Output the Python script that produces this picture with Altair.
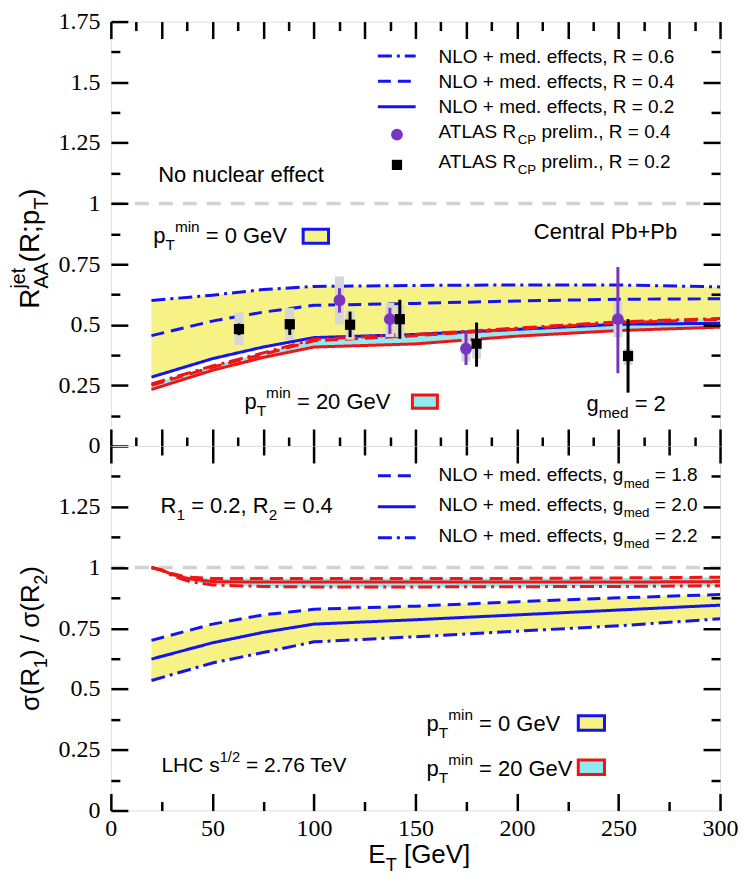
import altair as alt
import pandas as pd

# ---------------- data ----------------
# upper panel: R_AA^jet vs E_T
x_top = [20, 50, 75, 100, 150, 200, 250, 300]
blue_r06 = [0.600, 0.622, 0.645, 0.658, 0.662, 0.664, 0.664, 0.656]
blue_r04 = [0.455, 0.515, 0.552, 0.580, 0.588, 0.598, 0.605, 0.607]
blue_r02 = [0.284, 0.360, 0.408, 0.447, 0.460, 0.481, 0.502, 0.506]
red_r06 = [0.256, 0.330, 0.384, 0.440, 0.460, 0.486, 0.512, 0.526]
red_r04 = [0.250, 0.325, 0.378, 0.434, 0.455, 0.482, 0.508, 0.522]
red_r02 = [0.233, 0.312, 0.365, 0.408, 0.421, 0.453, 0.476, 0.490]

# lower panel: sigma(R1)/sigma(R2)
x_bot = [20, 50, 75, 100, 150, 200, 250, 300]
blue_g18 = [0.700, 0.767, 0.805, 0.828, 0.841, 0.859, 0.875, 0.889]
blue_g20 = [0.623, 0.690, 0.733, 0.767, 0.785, 0.805, 0.825, 0.845]
blue_g22 = [0.535, 0.607, 0.650, 0.694, 0.715, 0.738, 0.760, 0.789]
x_bot_red = [20, 25, 30, 35, 40, 50, 75, 100, 150, 200, 250, 300]
red_g18 = [1.000, 0.990, 0.975, 0.965, 0.960, 0.955, 0.955, 0.955, 0.955, 0.955, 0.957, 0.960]
red_g20 = [1.000, 0.990, 0.972, 0.960, 0.952, 0.942, 0.940, 0.940, 0.940, 0.940, 0.940, 0.942]
red_g22 = [1.000, 0.988, 0.968, 0.952, 0.940, 0.928, 0.922, 0.920, 0.920, 0.921, 0.922, 0.925]

# ATLAS R_CP preliminary
atlas04_et = [112.6, 137.4, 174.9, 249.7]
atlas04_val = [0.601, 0.523, 0.401, 0.523]
atlas04_stat_lo = [0.550, 0.462, 0.334, 0.300]
atlas04_stat_hi = [0.651, 0.570, 0.462, 0.738]
atlas04_sys_lo = [0.501, 0.449, 0.348, 0.449]
atlas04_sys_hi = [0.699, 0.590, 0.462, 0.597]

atlas02_et = [63.1, 88.1, 117.8, 142.3, 180.1, 254.7]
atlas02_val = [0.482, 0.502, 0.500, 0.523, 0.422, 0.371]
atlas02_stat_lo = [0.457, 0.458, 0.449, 0.442, 0.327, 0.220]
atlas02_stat_hi = [0.505, 0.515, 0.554, 0.603, 0.509, 0.523]
atlas02_sys_lo = [0.416, 0.437, 0.438, 0.449, 0.360, 0.334]
atlas02_sys_hi = [0.550, 0.570, 0.559, 0.580, 0.462, 0.400]
sys_half_width = 2.2

no_effect = [1.0]

# tick values
x_major_top = [0, 25, 50, 75, 100, 125, 150, 175, 200, 225, 250, 275, 300]
x_minor_top = [12.5, 37.5, 62.5, 87.5, 112.5, 137.5, 162.5, 187.5, 212.5, 237.5, 262.5, 287.5]
x_major_bot = [0, 50, 100, 150, 200, 250, 300]
x_minor_bot = [25, 75, 125, 175, 225, 275]
y_major_top = [0, 0.25, 0.5, 0.75, 1.0, 1.25, 1.5, 1.75]
y_minor_top = [0.125, 0.375, 0.625, 0.875, 1.125, 1.375, 1.625]
y_major_bot = [0, 0.25, 0.5, 0.75, 1.0, 1.25]
y_minor_bot = [0.125, 0.375, 0.625, 0.875, 1.125, 1.375]

# ---------------- styling ----------------
BLUE = "#1414f0"
RED = "#f01414"
YEL = "#f7f285"
CYA = "#92eaf0"
PURP = "#7a35c0"
GRAY = "#d6d6d6"
FONT = "Liberation Sans, Arial, Helvetica, sans-serif"
SERIF = "Liberation Serif, Times New Roman, serif"

W = 610
H1, H2 = 425, 365
KX = W / 300.0
K1 = H1 / 1.75
K2 = H2 / 1.5

xs = alt.Scale(domain=[0, 300], nice=False, zero=False)
ys1 = alt.Scale(domain=[0, 1.75], nice=False, zero=False)
ys2 = alt.Scale(domain=[0, 1.5], nice=False, zero=False)
dash_scale = alt.Scale(domain=["solid", "dash", "dashdot"],
                       range=[[1, 0], [13, 7], [14, 5, 3, 5]])

AW = {' ': 278, '+': 584, ',': 278, '.': 278, '/': 278, '=': 584, ';': 278,
      '(': 333, ')': 333, '[': 278, ']': 278, 'σ': 600}
for d in "0123456789":
    AW[d] = 556
AW.update({'A': 667, 'B': 667, 'C': 722, 'D': 722, 'E': 667, 'F': 611, 'G': 778,
           'H': 722, 'I': 278, 'L': 556, 'M': 833, 'N': 722, 'O': 778, 'P': 667,
           'R': 722, 'S': 667, 'T': 611, 'V': 667})
AW.update({'a': 556, 'b': 556, 'c': 500, 'd': 556, 'e': 556, 'f': 278, 'g': 556,
           'h': 556, 'i': 222, 'j': 222, 'l': 222, 'm': 833, 'n': 556, 'o': 556,
           'p': 556, 'r': 333, 's': 500, 't': 278, 'u': 556, 'v': 500})


def tw(s, size):
    return sum(AW.get(c, 556) for c in s) / 1000.0 * size


def rich(parts, x0, y0, size, ky, rot=False):
    """Split a label with sub/superscripts into text pieces placed one after another."""
    rows = []
    adv = 0.0
    prev_start = 0.0
    for txt, mode in parts:
        if mode == 'n':
            fs, sh = size, 0.0
        elif mode.startswith('_'):
            fs, sh = size * 0.7, -0.32 * size
        else:
            fs, sh = size * 0.7, 0.5 * size
        start = prev_start if mode.endswith('s') else adv
        lead = len(txt) - len(txt.lstrip(' '))
        pos = start + tw(' ' * lead, fs)
        clean = txt.strip(' ')
        if rot:
            rows.append(dict(x=x0 - sh / KX, y=y0 + pos / ky, t=clean, s=fs))
        else:
            rows.append(dict(x=x0 + pos / KX, y=y0 + sh / ky, t=clean, s=fs))
        prev_start = start
        adv = max(adv, start + tw(txt, fs))
    return rows


def ax(orient, values, size, labels=False, pad=0):
    kw = dict(orient=orient, values=values, tickSize=size, offset=-size, domain=False,
              grid=False, ticks=True, labels=labels, title=None, tickColor="black",
              tickWidth=2.5, zindex=1, minExtent=0)
    if labels:
        kw.update(labelFont=SERIF, labelFontSize=24, labelColor="black",
                  labelPadding=pad, labelExpr="'' + datum.value", labelOverlap=False,
                  labelFlush=False, labelBound=False)
    return alt.Axis(**kw)


def X(f, axis=None):
    return alt.X(f, type="quantitative", scale=xs, axis=axis)


def panel(ys, ky, height, band_y, band_c, lines, xmaj, xmin, ymaj_l, ymaj_r, ymin,
          xlabels, extra, texts, rot_texts):
    def Y(f, axis=None):
        return alt.Y(f, type="quantitative", scale=ys, axis=axis)

    layers = []
    layers.append(alt.Chart(band_y).mark_area(color=YEL, opacity=1).encode(
        x=X("x", ax("bottom", xmaj, 17, xlabels, 6)),
        y=Y("lo", ax("left", ymaj_l, 17, True, 11)), y2="hi:Q"))
    layers.append(alt.Chart(band_c).mark_area(color=CYA, opacity=1).encode(
        x=X("x", ax("top", xmaj, 17)), y=Y("lo", ax("right", ymaj_r, 17)), y2="hi:Q"))
    ref = pd.DataFrame({"x0": [0], "x1": [300], "y": no_effect})
    layers.append(alt.Chart(ref).mark_rule(color="#d2d2d2", strokeWidth=3.5,
                                           strokeDash=[14, 10]).encode(
        x=X("x0", ax("bottom", xmin, 9)), x2="x1:Q", y=Y("y", ax("left", ymin, 9))))
    layers.append(alt.Chart(lines).mark_line(strokeWidth=3).encode(
        x=X("x", ax("top", xmin, 9)), y=Y("y", ax("right", ymin, 9)),
        color=alt.Color("c:N", scale=None),
        strokeDash=alt.StrokeDash("d:N", scale=dash_scale, legend=None),
        detail="k:N"))
    for build in extra:
        layers.append(build(Y))
    tdf = pd.DataFrame(texts)
    layers.append(alt.Chart(tdf).mark_text(align="left", baseline="alphabetic", font=FONT,
                                           color="black").encode(
        x=X("x"), y=Y("y"), text="t:N", size=alt.Size("s:Q", scale=None, legend=None)))
    rdf = pd.DataFrame(rot_texts)
    layers.append(alt.Chart(rdf).mark_text(align="left", baseline="alphabetic", font=FONT,
                                           color="black", angle=270).encode(
        x=X("x"), y=Y("y"), text="t:N", size=alt.Size("s:Q", scale=None, legend=None)))
    return alt.layer(*layers).resolve_axis(x="independent", y="independent").properties(
        width=W, height=height)


def long_lines(xv, series):
    rows = []
    for key, (vals, col, dash) in series.items():
        for xx, yy in zip(xv, vals):
            rows.append(dict(k=key, x=xx, y=yy, c=col, d=dash))
    return rows


# ---------------- upper panel ----------------
band_y1 = pd.DataFrame({"x": x_top, "lo": blue_r02, "hi": blue_r06})
band_c1 = pd.DataFrame({"x": x_top, "lo": red_r02, "hi": red_r06})
lines1 = pd.DataFrame(long_lines(x_top, {
    "b6": (blue_r06, BLUE, "dashdot"), "b4": (blue_r04, BLUE, "dash"),
    "b2": (blue_r02, BLUE, "solid"), "r6": (red_r06, RED, "dashdot"),
    "r4": (red_r04, RED, "dash"), "r2": (red_r02, RED, "solid")}))

a04 = pd.DataFrame({"x": atlas04_et, "y": atlas04_val, "lo": atlas04_stat_lo,
                    "hi": atlas04_stat_hi, "slo": atlas04_sys_lo, "shi": atlas04_sys_hi})
a02 = pd.DataFrame({"x": atlas02_et, "y": atlas02_val, "lo": atlas02_stat_lo,
                    "hi": atlas02_stat_hi, "slo": atlas02_sys_lo, "shi": atlas02_sys_hi})
sysdf = pd.concat([a04, a02], ignore_index=True)
sysdf["x0"] = sysdf["x"] - sys_half_width
sysdf["x1"] = sysdf["x"] + sys_half_width
errdf = pd.concat([a04.assign(c=PURP), a02.assign(c="black")], ignore_index=True)

leg1_lines = pd.DataFrame({"x0": [131.5] * 3, "x1": [150.1] * 3,
                           "y": [1.608, 1.504, 1.399], "c": [BLUE] * 3,
                           "d": ["dashdot", "dash", "solid"]})
leg1_circ = pd.DataFrame({"x": [140.9], "y": [1.284]})
leg1_sq = pd.DataFrame({"x": [140.9], "y": [1.159]})

swatch1 = pd.DataFrame({"x0": [94.7, 148.5], "x1": [107.2, 160.8],
                        "y0": [0.836, 0.156], "y1": [0.894, 0.210],
                        "f": [YEL, CYA], "st": [BLUE, RED]})
swatch2 = pd.DataFrame({"x0": [230.2, 230.2], "x1": [243.1, 243.1],
                        "y0": [0.330, 0.148], "y1": [0.390, 0.208],
                        "f": [YEL, CYA], "st": [BLUE, RED]})


def extra_common(legend_lines, swatches):
    def f_leg(Y):
        return alt.Chart(legend_lines).mark_rule(strokeWidth=3).encode(
            x=X("x0"), x2="x1:Q", y=Y("y"), color=alt.Color("c:N", scale=None),
            strokeDash=alt.StrokeDash("d:N", scale=dash_scale, legend=None))

    def f_sw(Y):
        return alt.Chart(swatches).mark_rect(strokeWidth=3).encode(
            x=X("x0"), x2="x1:Q", y=Y("y0"), y2="y1:Q",
            fill=alt.Fill("f:N", scale=None), stroke=alt.Stroke("st:N", scale=None))
    return [f_leg, f_sw]


def e_sys(Y):
    return alt.Chart(sysdf).mark_rect(color=GRAY, opacity=1).encode(
        x=X("x0"), x2="x1:Q", y=Y("slo"), y2="shi:Q")


def e_err(Y):
    return alt.Chart(errdf).mark_rule(strokeWidth=3).encode(
        x=X("x"), y=Y("lo"), y2="hi:Q", color=alt.Color("c:N", scale=None))


def e_circ(Y):
    d = pd.concat([a04[["x", "y"]], leg1_circ], ignore_index=True)
    return alt.Chart(d).mark_circle(size=140, color=PURP, opacity=1).encode(
        x=X("x"), y=Y("y"))


def e_sq(Y):
    d = pd.concat([a02[["x", "y"]], leg1_sq], ignore_index=True)
    return alt.Chart(d).mark_square(size=105, color="black", opacity=1).encode(
        x=X("x"), y=Y("y"))


texts1 = []
texts1 += rich([("NLO + med. effects, R = 0.6", 'n')], 161.4, 1.581, 19, K1)
texts1 += rich([("NLO + med. effects, R = 0.4", 'n')], 161.4, 1.477, 19, K1)
texts1 += rich([("NLO + med. effects, R = 0.2", 'n')], 161.4, 1.372, 19, K1)
texts1 += rich([("ATLAS R", 'n'), ("CP", '_'), (" prelim., R = 0.4", 'n')], 161.4, 1.271, 19, K1)
texts1 += rich([("ATLAS R", 'n'), ("CP", '_'), (" prelim., R = 0.2", 'n')], 161.4, 1.146, 19, K1)
texts1 += rich([("No nuclear effect", 'n')], 23.3, 1.089, 22, K1)
texts1 += rich([("p", 'n'), ("T", '_'), ("min", '^'), (" = 0 GeV", 'n')], 20.9, 0.838, 22, K1)
texts1 += rich([("Central Pb+Pb", 'n')], 208.3, 0.853, 22, K1)
texts1 += rich([("p", 'n'), ("T", '_'), ("min", '^'), (" = 20 GeV", 'n')], 65.8, 0.152, 22, K1)
texts1 += rich([("g", 'n'), ("med", '_'), (" = 2", 'n')], 234.2, 0.143, 22, K1)
rot1 = rich([("R", 'n'), ("AA", '_'), ("jet", '^s'), ("(R;p", 'n'), ("T", '_'), (")", 'n')],
            -35.5, 0.566, 28, K1, rot=True)

top = panel(ys1, K1, H1, band_y1, band_c1, lines1, x_major_top, x_minor_top,
            y_major_top, y_major_top[1:-1], y_minor_top, False,
            [e_sys] + extra_common(leg1_lines, swatch1) + [e_err, e_circ, e_sq],
            texts1, rot1)

# ---------------- lower panel ----------------
band_y2 = pd.DataFrame({"x": x_bot, "lo": blue_g22, "hi": blue_g18})
band_c2 = pd.DataFrame({"x": x_bot_red, "lo": red_g22, "hi": red_g18})
lines2 = pd.DataFrame(long_lines(x_bot, {
    "b18": (blue_g18, BLUE, "dash"), "b20": (blue_g20, BLUE, "solid"),
    "b22": (blue_g22, BLUE, "dashdot")}) + long_lines(x_bot_red, {
    "r18": (red_g18, RED, "dash"), "r20": (red_g20, RED, "solid"),
    "r22": (red_g22, RED, "dashdot")}))
leg2_lines = pd.DataFrame({"x0": [131.5] * 3, "x1": [150.1] * 3,
                           "y": [1.378, 1.250, 1.122], "c": [BLUE] * 3,
                           "d": ["dash", "solid", "dashdot"]})

texts2 = []
texts2 += rich([("NLO + med. effects, g", 'n'), ("med", '_'), (" = 1.8", 'n')], 161.4, 1.354, 19, K2)
texts2 += rich([("NLO + med. effects, g", 'n'), ("med", '_'), (" = 2.0", 'n')], 161.4, 1.232, 19, K2)
texts2 += rich([("NLO + med. effects, g", 'n'), ("med", '_'), (" = 2.2", 'n')], 161.4, 1.106, 19, K2)
texts2 += rich([("R", 'n'), ("1", '_'), (" = 0.2, R", 'n'), ("2", '_'), (" = 0.4", 'n')], 24.5, 1.223, 22, K2)
texts2 += rich([("p", 'n'), ("T", '_'), ("min", '^'), (" = 0 GeV", 'n')], 155.5, 0.326, 22, K2)
texts2 += rich([("p", 'n'), ("T", '_'), ("min", '^'), (" = 20 GeV", 'n')], 155.5, 0.144, 22, K2)
texts2 += rich([("LHC s", 'n'), ("1/2", '^'), (" = 2.76 TeV", 'n')], 24.9, 0.158, 21, K2)
texts2 += rich([("E", 'n'), ("T", '_'), (" [GeV]", 'n')], 126.8, -0.215, 26, K2)
rot2 = rich([("σ(R", 'n'), ("1", '_'), (") / σ(R", 'n'), ("2", '_'), (")", 'n')],
            -35.5, 0.409, 26, K2, rot=True)

bottom = panel(ys2, K2, H2, band_y2, band_c2, lines2, x_major_bot, x_minor_bot,
               y_major_bot, y_major_bot[1:], y_minor_bot, True,
               extra_common(leg2_lines, swatch2), texts2, rot2)

chart = alt.vconcat(top, bottom, spacing=0, bounds="flush").properties(
    padding={"left": 0, "top": 0, "right": 0, "bottom": 0}
).configure_view(stroke="black", strokeWidth=3).configure(background="white")

chart.save("out.html", embed_options={"renderer": "svg", "actions": False})
